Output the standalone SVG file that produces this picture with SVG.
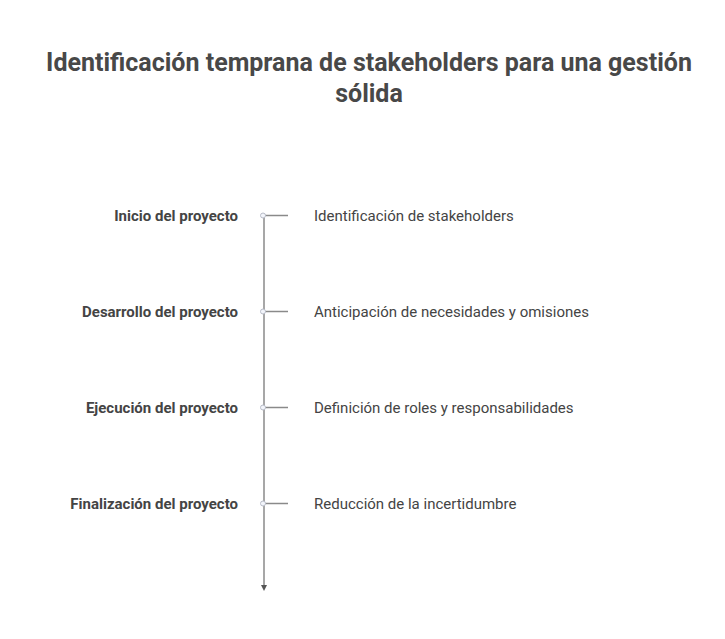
<svg xmlns="http://www.w3.org/2000/svg" width="725" height="639" viewBox="0 0 725 639">
<style>
.title{font-family:Roboto,"Liberation Sans",sans-serif;font-weight:700;font-size:25px;fill:#484848;text-anchor:middle}
.lbl{font-family:Roboto,"Liberation Sans",sans-serif;font-weight:700;font-size:15px;fill:#444;text-anchor:end}
.desc{font-family:Roboto,"Liberation Sans",sans-serif;font-size:15px;fill:#444}
.ln{stroke:#8a8a8a;stroke-width:1.5;fill:none}
.dot{fill:#f3f5fb;stroke:#b8bcc8;stroke-width:1}
</style>
<defs>
<marker id="arr" viewBox="0 0 10 10" refX="5" refY="5" markerWidth="4" markerHeight="4" orient="auto">
<path d="M0,0 L10,5 L0,10 z" fill="#555"/>
</marker>
</defs>
<rect width="725" height="639" fill="#fff"/>
<g id="title">
<text class="title" x="369" y="71">Identificación temprana de stakeholders para una gestión</text>
<text class="title" x="369" y="102">sólida</text>
</g>
<g id="connectors">
<line class="ln" x1="264" y1="215.5" x2="264" y2="588" marker-end="url(#arr)"/>
<line class="ln" x1="264" y1="215.5" x2="288" y2="215.5"/>
<line class="ln" x1="264" y1="311.5" x2="288" y2="311.5"/>
<line class="ln" x1="264" y1="407.5" x2="288" y2="407.5"/>
<line class="ln" x1="264" y1="503.5" x2="288" y2="503.5"/>
</g>
<g id="n1">
<circle class="dot" cx="263" cy="215.5" r="2.5"/>
<text class="lbl" x="238" y="221">Inicio del proyecto</text>
<text class="desc" x="314" y="221">Identificación de stakeholders</text>
</g>
<g id="n2">
<circle class="dot" cx="263" cy="311.5" r="2.5"/>
<text class="lbl" x="238" y="317">Desarrollo del proyecto</text>
<text class="desc" x="314" y="317">Anticipación de necesidades y omisiones</text>
</g>
<g id="n3">
<circle class="dot" cx="263" cy="407.5" r="2.5"/>
<text class="lbl" x="238" y="413">Ejecución del proyecto</text>
<text class="desc" x="314" y="413">Definición de roles y responsabilidades</text>
</g>
<g id="n4">
<circle class="dot" cx="263" cy="503.5" r="2.5"/>
<text class="lbl" x="238" y="509">Finalización del proyecto</text>
<text class="desc" x="314" y="509">Reducción de la incertidumbre</text>
</g>
</svg>
